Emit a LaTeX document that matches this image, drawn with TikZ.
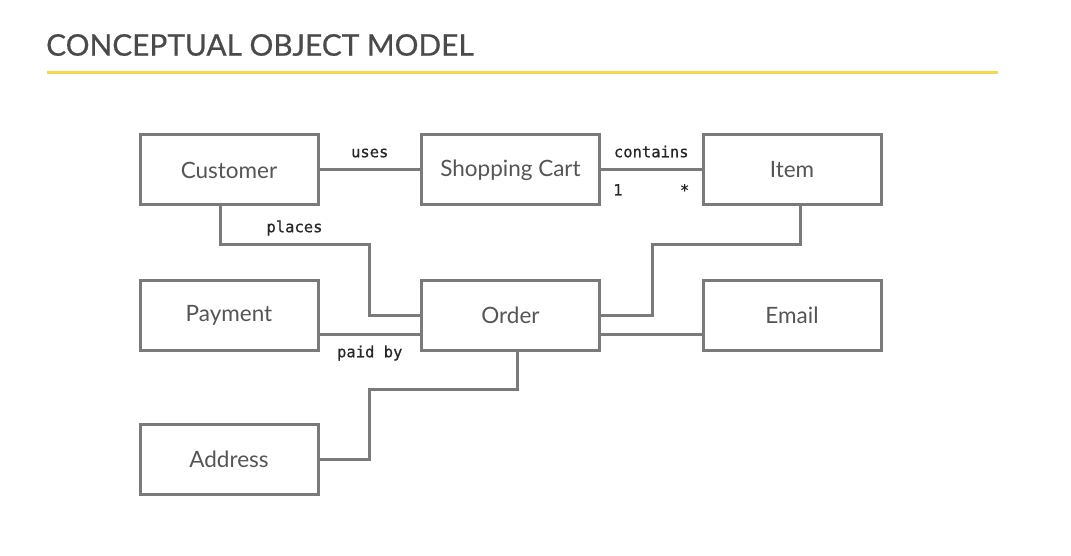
\documentclass[tikz,border=0pt]{standalone}
\usepackage{fontspec}
\setmainfont{Lato}
\newfontfamily\titlefont[FakeBold=0.6]{Lato}
\newfontfamily\labelfont[FakeBold=0.5]{DejaVu Sans Mono}
\usetikzlibrary{positioning}
\definecolor{linegray}{HTML}{7A7A7A}
\definecolor{textgray}{HTML}{555555}
\definecolor{titlegray}{HTML}{4A4A4A}
\definecolor{rulegold}{HTML}{F6D64C}

\begin{document}
\begin{tikzpicture}[
    x=1pt, y=-1pt,
    node distance=145pt and 281.5pt,
    on grid,
    class/.style={draw=linegray, line width=3pt, minimum width=178pt, minimum height=70pt,
        text=textgray, font=\fontsize{22.5}{26}\selectfont},
    link/.style={draw=linegray, line width=3pt},
    lbl/.style={font=\labelfont\fontsize{15.5}{17}\selectfont, text=black!85, inner sep=2pt}
]
\useasboundingbox (0,0) rectangle (1071,556);

% titel
\node[anchor=west, text=titlegray, font=\titlefont\fontsize{29.8}{34}\selectfont, inner sep=0pt] (title) at (46,45) {CONCEPTUAL OBJECT MODEL};
\draw[rulegold, line width=3pt] (47,73) -- (998,73);

% klassen
\node[class] (customer) at (229,170) {Customer};
\node[class, right=of customer] (cart) {Shopping Cart};
\node[class, right=of cart] (item) {Item};
\node[class, below=of customer] (payment) {Payment};
\node[class, right=of payment] (order) {Order};
\node[class, right=of order] (email) {Email};
\node[class, below=144pt of payment] (address) {Address};

% knikpunten
\coordinate (placesbend) at (369,245);
\coordinate (itembend) at (652,245);
\coordinate (addressbend) at (369,389);

% verbindingen
\draw[link] (customer) -- node[lbl, above=9pt] {uses} (cart);
\draw[link] (cart) -- node[lbl, above=9pt] {contains} (item);
\node[lbl, below right=12pt and 10pt of cart.east, anchor=north west] (one) {1};
\node[lbl, below left=12pt and 10pt of item.west, anchor=north east] (many) {*};
\draw[link] ([xshift=-9pt]customer.south) |- node[pos=.75, lbl, above=6pt] {places} (placesbend) |- (order.west);
\draw[link] ([xshift=8pt]item.south) |- (itembend) |- (order.east);
\draw[link] ([yshift=-19pt]payment.east) -- node[lbl, below=8pt] {paid by} ([yshift=-19pt]order.west);
\draw[link] ([yshift=-19pt]order.east) -- ([yshift=-19pt]email.west);
\draw[link] ([xshift=7pt]order.south) |- (addressbend) |- (address.east);

\end{tikzpicture}
\end{document}
